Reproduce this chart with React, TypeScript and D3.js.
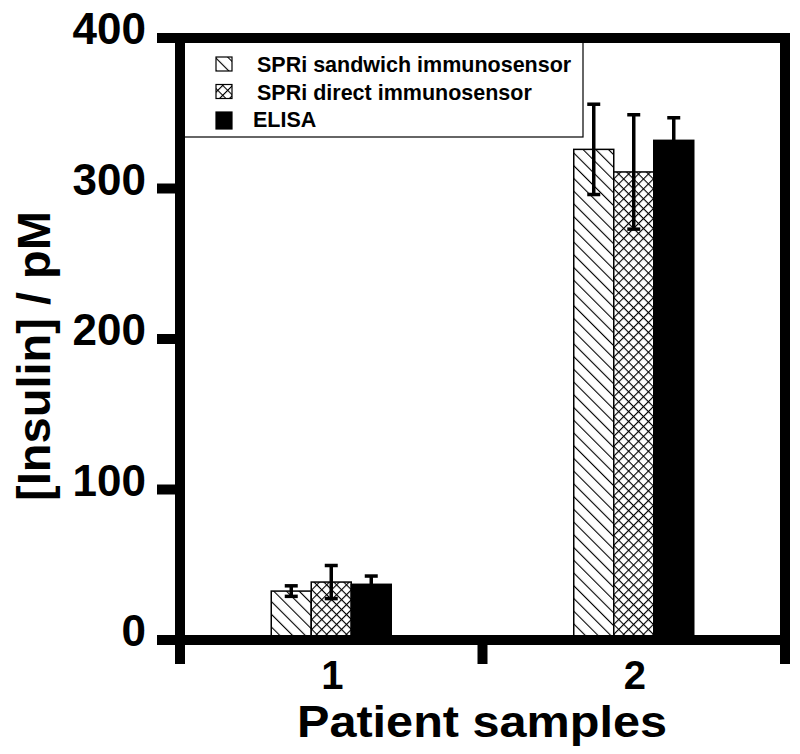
import React from "react";
import * as d3 from "d3";

const samples = ["1", "2"];
const methods = ["SPRi sandwich immunosensor", "SPRi direct immunosensor", "ELISA"];
const sandwichValues = [32.5, 326];
const sandwichErrors = [3.5, 30];
const directValues = [38.5, 311];
const directErrors = [11, 38];
const elisaValues = [37, 332];
const elisaErrors = [5.5, 15];
const yTicks = [0, 100, 200, 300, 400];
const xBoundaryTicks = [0.5, 1.5, 2.5];

const fills = ["url(#hatch)", "url(#cross)", "#000"];
const FONT = "'Liberation Sans', Arial, sans-serif";

export default function App() {
  const left = 180;
  const right = 785;
  const top = 38;
  const bottom = 640;

  const x = d3.scaleLinear().domain([0.5, 2.5]).range([left, right]);
  const y = d3.scaleLinear().domain([0, 400]).range([bottom, top]);
  const inner = d3.scaleBand<string>().domain(methods).range([-60, 60]);

  const seriesValues = [sandwichValues, directValues, elisaValues];
  const seriesErrors = [sandwichErrors, directErrors, elisaErrors];

  const bars = methods.flatMap((m, si) =>
    samples.map((s, i) => ({
      key: `${m}-${s}`,
      x0: x(i + 1) + (inner(m) ?? 0),
      w: inner.bandwidth(),
      v: seriesValues[si][i],
      e: seriesErrors[si][i],
      fill: fills[si]
    }))
  );

  return (
    <svg
      width={800}
      height={754}
      style={{ position: "absolute", left: 0, top: 0, background: "#fff" }}
    >
      <defs>
        <pattern id="hatch" patternUnits="userSpaceOnUse" width={9} height={9} patternTransform="rotate(-45)">
          <rect width={9} height={9} fill="#fff" />
          <line x1={0} y1={0} x2={0} y2={9} stroke="#000" strokeWidth={2.2} />
        </pattern>
        <pattern id="cross" patternUnits="userSpaceOnUse" width={7} height={7} patternTransform="rotate(45)">
          <rect width={7} height={7} fill="#fff" />
          <line x1={0} y1={0} x2={0} y2={7} stroke="#000" strokeWidth={2.2} />
          <line x1={0} y1={0} x2={7} y2={0} stroke="#000" strokeWidth={2.2} />
        </pattern>
      </defs>

      {/* bars */}
      {bars.map((b) => (
        <rect
          key={b.key}
          x={b.x0}
          y={y(b.v)}
          width={b.w}
          height={y(0) - y(b.v)}
          fill={b.fill}
          stroke="#000"
          strokeWidth={1.5}
        />
      ))}

      {/* error bars */}
      {bars.map((b) => {
        const cx = b.x0 + b.w / 2;
        return (
          <g key={`err-${b.key}`} stroke="#000">
            <line x1={cx} x2={cx} y1={y(b.v + b.e)} y2={y(b.v - b.e)} strokeWidth={3.5} />
            <line x1={cx - 6.5} x2={cx + 6.5} y1={y(b.v + b.e)} y2={y(b.v + b.e)} strokeWidth={3.5} />
            <line x1={cx - 6.5} x2={cx + 6.5} y1={y(b.v - b.e)} y2={y(b.v - b.e)} strokeWidth={3.5} />
          </g>
        );
      })}

      {/* legend */}
      <rect x={left} y={top + 4} width={403} height={95} fill="#fff" stroke="#000" strokeWidth={1.2} />
      {methods.map((m, i) => (
        <g key={m} transform={`translate(0, ${72 + i * 27.5})`}>
          <rect x={216} y={-15} width={16} height={i === 2 ? 17 : 14} fill={fills[i]} stroke="#000" strokeWidth={1.2} />
          <text x={i === 2 ? 253 : 257} y={0} fontFamily={FONT} fontWeight="bold" fontSize={21.5} fill="#000">
            {m}
          </text>
        </g>
      ))}

      {/* frame */}
      <rect x={left} y={top} width={right - left} height={bottom - top} fill="none" stroke="#000" strokeWidth={10} />

      {/* y axis */}
      {yTicks.map((t) => (
        <g key={t}>
          <line x1={left - 23} x2={left} y1={y(t)} y2={y(t)} stroke="#000" strokeWidth={10} />
          <text x={146} y={y(t) + 6} textAnchor="end" fontFamily={FONT} fontWeight="bold" fontSize={44} fill="#000">
            {t}
          </text>
        </g>
      ))}

      {/* x axis */}
      {xBoundaryTicks.map((t) => (
        <line key={t} x1={x(t)} x2={x(t)} y1={bottom} y2={bottom + 24} stroke="#000" strokeWidth={10} />
      ))}
      {samples.map((s, i) => (
        <text key={s} x={x(i + 1) + 1} y={689} textAnchor="middle" fontFamily={FONT} fontWeight="bold" fontSize={40} fill="#000">
          {s}
        </text>
      ))}

      <text x={482} y={737} textAnchor="middle" fontFamily={FONT} fontWeight="bold" fontSize={44} textLength={370} lengthAdjust="spacingAndGlyphs" fill="#000">
        Patient samples
      </text>
      <text
        transform="translate(50, 356) rotate(-90)"
        textAnchor="middle"
        fontFamily={FONT}
        fontWeight="bold"
        fontSize={47}
        fill="#000"
      >
        [Insulin] / pM
      </text>
    </svg>
  );
}
